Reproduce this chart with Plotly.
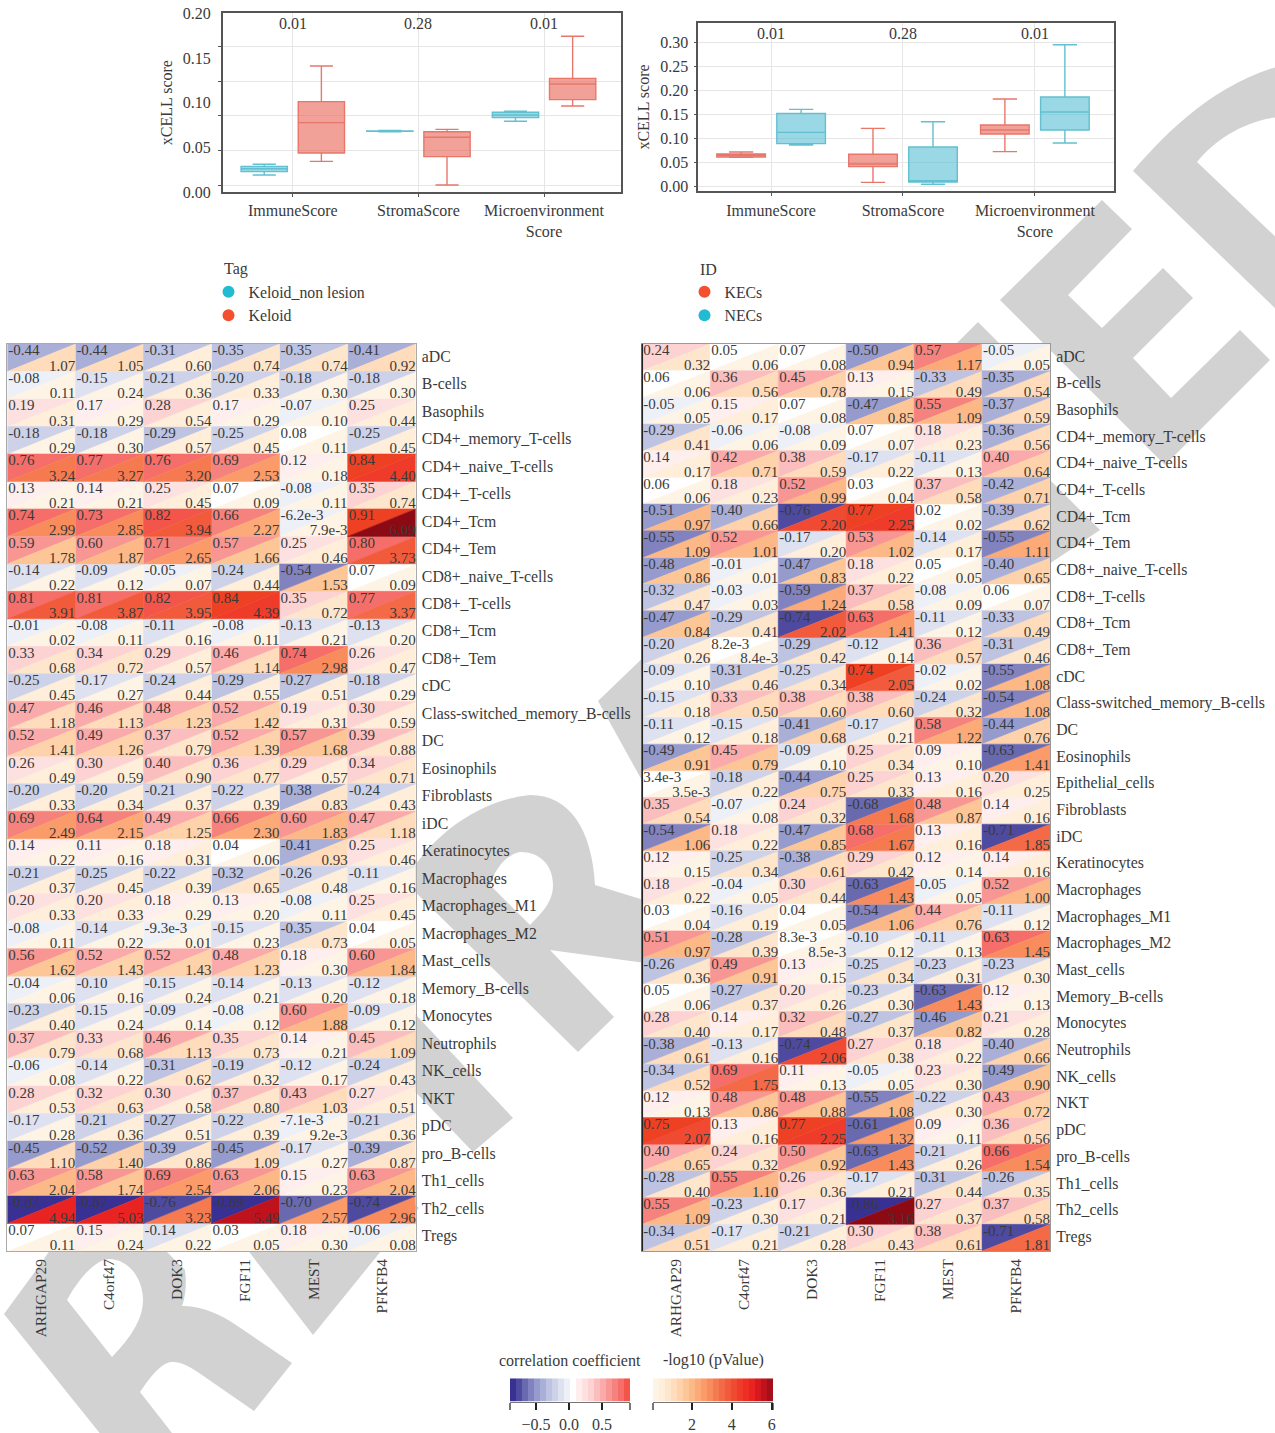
import re
import plotly.graph_objects as go

W, H = 1275, 1433
SERIF = "Liberation Serif"
INK = "#3a3a3a"

# ---------- box plots ----------
box_cats = ["ImmuneScore", "StromaScore", "Microenvironment<br>Score"]

tag_names = ["Keloid_non lesion", "Keloid"]
nonlesion_low = [0.0190, 0.0675, 0.0791]
nonlesion_q1 = [0.0228, 0.0679, 0.0832]
nonlesion_med = [0.0261, 0.0679, 0.0862]
nonlesion_q3 = [0.0287, 0.0683, 0.0892]
nonlesion_up = [0.0310, 0.0690, 0.0903]
keloid_low = [0.0343, 0.0078, 0.0963]
keloid_q1 = [0.0437, 0.0396, 0.1034]
keloid_med = [0.0776, 0.0612, 0.1209]
keloid_q3 = [0.1011, 0.0675, 0.1272]
keloid_up = [0.1410, 0.0701, 0.1743]
tag_p = ["0.01", "0.28", "0.01"]

id_names = ["KECs", "NECs"]
kec_low = [0.0604, 0.0083, 0.0722]
kec_q1 = [0.0611, 0.0410, 0.1090]
kec_med = [0.0646, 0.0465, 0.1174]
kec_q3 = [0.0674, 0.0667, 0.1278]
kec_up = [0.0715, 0.1208, 0.1819]
nec_low = [0.0861, 0.0042, 0.0903]
nec_q1 = [0.0889, 0.0090, 0.1174]
nec_med = [0.1125, 0.0118, 0.1549]
nec_q3 = [0.1521, 0.0819, 0.1861]
nec_up = [0.1604, 0.1347, 0.2951]
id_p = ["0.01", "0.28", "0.01"]

# ---------- heat tables ----------
genes = ["ARHGAP29", "C4orf47", "DOK3", "FGF11", "MEST", "PFKFB4"]

left_rows = ["aDC", "B-cells", "Basophils", "CD4+_memory_T-cells", "CD4+_naive_T-cells", "CD4+_T-cells",
             "CD4+_Tcm", "CD4+_Tem", "CD8+_naive_T-cells", "CD8+_T-cells", "CD8+_Tcm", "CD8+_Tem", "cDC",
             "Class-switched_memory_B-cells", "DC", "Eosinophils", "Fibroblasts", "iDC", "Keratinocytes",
             "Macrophages", "Macrophages_M1", "Macrophages_M2", "Mast_cells", "Memory_B-cells", "Monocytes",
             "Neutrophils", "NK_cells", "NKT", "pDC", "pro_B-cells", "Th1_cells", "Th2_cells", "Tregs"]
left_corr = [
    [-0.44, -0.44, -0.31, -0.35, -0.35, -0.41],
    [-0.08, -0.15, -0.21, -0.20, -0.18, -0.18],
    [0.19, 0.17, 0.28, 0.17, -0.07, 0.25],
    [-0.18, -0.18, -0.29, -0.25, 0.08, -0.25],
    [0.76, 0.77, 0.76, 0.69, 0.12, 0.84],
    [0.13, 0.14, 0.25, 0.07, -0.08, 0.35],
    [0.74, 0.73, 0.82, 0.66, -6.2e-3, 0.91],
    [0.59, 0.60, 0.71, 0.57, 0.25, 0.80],
    [-0.14, -0.09, -0.05, -0.24, -0.54, 0.07],
    [0.81, 0.81, 0.82, 0.84, 0.35, 0.77],
    [-0.01, -0.08, -0.11, -0.08, -0.13, -0.13],
    [0.33, 0.34, 0.29, 0.46, 0.74, 0.26],
    [-0.25, -0.17, -0.24, -0.29, -0.27, -0.18],
    [0.47, 0.46, 0.48, 0.52, 0.19, 0.30],
    [0.52, 0.49, 0.37, 0.52, 0.57, 0.39],
    [0.26, 0.30, 0.40, 0.36, 0.29, 0.34],
    [-0.20, -0.20, -0.21, -0.22, -0.38, -0.24],
    [0.69, 0.64, 0.49, 0.66, 0.60, 0.47],
    [0.14, 0.11, 0.18, 0.04, -0.41, 0.25],
    [-0.21, -0.25, -0.22, -0.32, -0.26, -0.11],
    [0.20, 0.20, 0.18, 0.13, -0.08, 0.25],
    [-0.08, -0.14, -9.3e-3, -0.15, -0.35, 0.04],
    [0.56, 0.52, 0.52, 0.48, 0.18, 0.60],
    [-0.04, -0.10, -0.15, -0.14, -0.13, -0.12],
    [-0.23, -0.15, -0.09, -0.08, 0.60, -0.09],
    [0.37, 0.33, 0.46, 0.35, 0.14, 0.45],
    [-0.06, -0.14, -0.31, -0.19, -0.12, -0.24],
    [0.28, 0.32, 0.30, 0.37, 0.43, 0.27],
    [-0.17, -0.21, -0.27, -0.22, -7.1e-3, -0.21],
    [-0.45, -0.52, -0.39, -0.45, -0.17, -0.39],
    [0.63, 0.58, 0.69, 0.63, 0.15, 0.63],
    [-0.87, -0.87, -0.76, -0.89, -0.70, -0.74],
    [0.07, 0.15, -0.14, 0.03, 0.18, -0.06],
]
left_logp = [
    [1.07, 1.05, 0.60, 0.74, 0.74, 0.92],
    [0.11, 0.24, 0.36, 0.33, 0.30, 0.30],
    [0.31, 0.29, 0.54, 0.29, 0.10, 0.44],
    [0.29, 0.30, 0.57, 0.45, 0.11, 0.45],
    [3.24, 3.27, 3.20, 2.53, 0.18, 4.40],
    [0.21, 0.21, 0.45, 0.09, 0.11, 0.74],
    [2.99, 2.85, 3.94, 2.27, 7.9e-3, 6.09],
    [1.78, 1.87, 2.65, 1.66, 0.46, 3.73],
    [0.22, 0.12, 0.07, 0.44, 1.53, 0.09],
    [3.91, 3.87, 3.95, 4.39, 0.72, 3.37],
    [0.02, 0.11, 0.16, 0.11, 0.21, 0.20],
    [0.68, 0.72, 0.57, 1.14, 2.98, 0.47],
    [0.45, 0.27, 0.44, 0.55, 0.51, 0.29],
    [1.18, 1.13, 1.23, 1.42, 0.31, 0.59],
    [1.41, 1.26, 0.79, 1.39, 1.68, 0.88],
    [0.49, 0.59, 0.90, 0.77, 0.57, 0.71],
    [0.33, 0.34, 0.37, 0.39, 0.83, 0.43],
    [2.49, 2.15, 1.25, 2.30, 1.83, 1.18],
    [0.22, 0.16, 0.31, 0.06, 0.93, 0.46],
    [0.37, 0.45, 0.39, 0.65, 0.48, 0.16],
    [0.33, 0.33, 0.29, 0.20, 0.11, 0.45],
    [0.11, 0.22, 0.01, 0.23, 0.73, 0.05],
    [1.62, 1.43, 1.43, 1.23, 0.30, 1.84],
    [0.06, 0.16, 0.24, 0.21, 0.20, 0.18],
    [0.40, 0.24, 0.14, 0.12, 1.88, 0.12],
    [0.79, 0.68, 1.13, 0.73, 0.21, 1.09],
    [0.08, 0.22, 0.62, 0.32, 0.17, 0.43],
    [0.53, 0.63, 0.58, 0.80, 1.03, 0.51],
    [0.28, 0.36, 0.51, 0.39, 9.2e-3, 0.36],
    [1.10, 1.40, 0.86, 1.09, 0.27, 0.87],
    [2.04, 1.74, 2.54, 2.06, 0.23, 2.04],
    [4.94, 5.03, 3.23, 5.49, 2.57, 2.96],
    [0.11, 0.24, 0.22, 0.05, 0.30, 0.08],
]

right_rows = ["aDC", "B-cells", "Basophils", "CD4+_memory_T-cells", "CD4+_naive_T-cells", "CD4+_T-cells",
              "CD4+_Tcm", "CD4+_Tem", "CD8+_naive_T-cells", "CD8+_T-cells", "CD8+_Tcm", "CD8+_Tem", "cDC",
              "Class-switched_memory_B-cells", "DC", "Eosinophils", "Epithelial_cells", "Fibroblasts", "iDC",
              "Keratinocytes", "Macrophages", "Macrophages_M1", "Macrophages_M2", "Mast_cells", "Memory_B-cells",
              "Monocytes", "Neutrophils", "NK_cells", "NKT", "pDC", "pro_B-cells", "Th1_cells", "Th2_cells", "Tregs"]
right_corr = [
    [0.24, 0.05, 0.07, -0.50, 0.57, -0.05],
    [0.06, 0.36, 0.45, 0.13, -0.33, -0.35],
    [-0.05, 0.15, 0.07, -0.47, 0.55, -0.37],
    [-0.29, -0.06, -0.08, 0.07, 0.18, -0.36],
    [0.14, 0.42, 0.38, -0.17, -0.11, 0.40],
    [0.06, 0.18, 0.52, 0.03, 0.37, -0.42],
    [-0.51, -0.40, -0.76, 0.77, 0.02, -0.39],
    [-0.55, 0.52, -0.17, 0.53, -0.14, -0.55],
    [-0.48, -0.01, -0.47, 0.18, 0.05, -0.40],
    [-0.32, -0.03, -0.59, 0.37, -0.08, 0.06],
    [-0.47, -0.29, -0.74, 0.63, -0.11, -0.33],
    [-0.20, 8.2e-3, -0.29, -0.12, 0.36, -0.31],
    [-0.09, -0.31, -0.25, 0.74, -0.02, -0.55],
    [-0.15, 0.33, 0.38, 0.38, -0.24, -0.54],
    [-0.11, -0.15, -0.41, -0.17, 0.58, -0.44],
    [-0.49, 0.45, -0.09, 0.25, 0.09, -0.63],
    [3.4e-3, -0.18, -0.44, 0.25, 0.13, 0.20],
    [0.35, -0.07, 0.24, -0.68, 0.48, 0.14],
    [-0.54, 0.18, -0.47, 0.68, 0.13, -0.71],
    [0.12, -0.25, -0.38, 0.29, 0.12, 0.14],
    [0.18, -0.04, 0.30, -0.63, -0.05, 0.52],
    [0.03, -0.16, 0.04, -0.54, 0.44, -0.11],
    [0.51, -0.28, 8.3e-3, -0.10, -0.11, 0.63],
    [-0.26, 0.49, 0.13, -0.25, -0.23, -0.23],
    [0.05, -0.27, 0.20, -0.23, -0.63, 0.12],
    [0.28, 0.14, 0.32, -0.27, -0.46, 0.21],
    [-0.38, -0.13, -0.74, 0.27, 0.18, -0.40],
    [-0.34, 0.69, 0.11, -0.05, 0.23, -0.49],
    [0.12, 0.48, 0.48, -0.55, -0.22, 0.43],
    [0.75, 0.13, 0.77, -0.61, 0.09, 0.36],
    [0.40, 0.24, 0.50, -0.63, -0.21, 0.66],
    [-0.28, 0.55, 0.26, -0.17, -0.31, -0.26],
    [0.55, -0.23, 0.17, -0.86, 0.27, 0.37],
    [-0.34, -0.17, -0.21, 0.30, 0.38, -0.71],
]
right_logp = [
    [0.32, 0.06, 0.08, 0.94, 1.17, 0.05],
    [0.06, 0.56, 0.78, 0.15, 0.49, 0.54],
    [0.05, 0.17, 0.08, 0.85, 1.09, 0.59],
    [0.41, 0.06, 0.09, 0.07, 0.23, 0.56],
    [0.17, 0.71, 0.59, 0.22, 0.13, 0.64],
    [0.06, 0.23, 0.99, 0.04, 0.58, 0.71],
    [0.97, 0.66, 2.20, 2.25, 0.02, 0.62],
    [1.09, 1.01, 0.20, 1.02, 0.17, 1.11],
    [0.86, 0.01, 0.83, 0.22, 0.05, 0.65],
    [0.47, 0.03, 1.24, 0.58, 0.09, 0.07],
    [0.84, 0.41, 2.02, 1.41, 0.12, 0.49],
    [0.26, 8.4e-3, 0.42, 0.14, 0.57, 0.46],
    [0.10, 0.46, 0.34, 2.05, 0.02, 1.08],
    [0.18, 0.50, 0.60, 0.60, 0.32, 1.08],
    [0.12, 0.18, 0.68, 0.21, 1.22, 0.76],
    [0.91, 0.79, 0.10, 0.34, 0.10, 1.41],
    [3.5e-3, 0.22, 0.75, 0.33, 0.16, 0.25],
    [0.54, 0.08, 0.32, 1.68, 0.87, 0.16],
    [1.06, 0.22, 0.85, 1.67, 0.16, 1.85],
    [0.15, 0.34, 0.61, 0.42, 0.14, 0.16],
    [0.22, 0.05, 0.44, 1.43, 0.05, 1.00],
    [0.04, 0.19, 0.05, 1.06, 0.76, 0.12],
    [0.97, 0.39, 8.5e-3, 0.12, 0.13, 1.45],
    [0.36, 0.91, 0.15, 0.34, 0.31, 0.30],
    [0.06, 0.37, 0.26, 0.30, 1.43, 0.13],
    [0.40, 0.17, 0.48, 0.37, 0.82, 0.28],
    [0.61, 0.16, 2.06, 0.38, 0.22, 0.66],
    [0.52, 1.75, 0.13, 0.05, 0.30, 0.90],
    [0.13, 0.86, 0.88, 1.08, 0.30, 0.72],
    [2.07, 0.16, 2.25, 1.32, 0.11, 0.56],
    [0.65, 0.32, 0.92, 1.43, 0.26, 1.54],
    [0.40, 1.10, 0.36, 0.21, 0.44, 0.35],
    [1.09, 0.30, 0.21, 3.16, 0.37, 0.58],
    [0.51, 0.21, 0.28, 0.43, 0.61, 1.81],
]

# ---------- colour steps ----------
neg_colors = ["#eef0f8", "#dee1f0", "#cdd2e8", "#bec3e1", "#aaafd7", "#969bcd", "#8282be", "#6969af", "#4e4aa0", "#383092"]
pos_colors = ["#ffffff", "#feeeee", "#fde1e1", "#fcd2d2", "#fbbebe", "#faaaaa", "#f89694", "#f6827d", "#f56e69", "#f3554b", "#ee4022"]
logp_colors = ["#fef4e6", "#feeeda", "#fee6cd", "#fedcbc", "#fed2aa", "#fdc696", "#fcb987", "#fbaa78", "#fa9b69", "#f88c5c",
               "#f67a50", "#f46946", "#f25a3c", "#f04b32", "#ef3c2a", "#ee2d23", "#e82321", "#d7191e", "#be121c", "#a50f19", "#8c0a14"]

corr_edges = [-0.894, -0.803, -0.712, -0.621, -0.530, -0.439, -0.348, -0.257, -0.166, -0.075, 0.015,
              0.106, 0.197, 0.288, 0.379, 0.470, 0.561, 0.652, 0.742, 0.833, 0.924]
logp_edges = [0.04, 0.34, 0.64, 0.94, 1.25, 1.55, 1.85, 2.15, 2.45, 2.75, 3.05,
              3.35, 3.65, 3.96, 4.26, 4.56, 4.86, 5.16, 5.46, 5.76, 6.065]
corr_ticks = [-0.5, 0.0, 0.5]
logp_ticks = [2, 4, 6]


def corr_color(v, vmin, vmax):
    if v < 0:
        return neg_colors[min(int(-v / -vmin * 10), 9)]
    t = v / vmax
    return pos_colors[10 if t >= 0.92 else int(t * 10)]


def logp_color(v, vmax):
    return logp_colors[int(v / vmax * 20)]


def fmt(v):
    if abs(v) < 0.01:
        return f"{v:.1e}".replace("e-0", "e-")
    return f"{v:.2f}"


def px_path(s):
    out, is_x = [], True
    for tok in s.split():
        if tok.isalpha():
            out.append(tok)
        else:
            out.append(f"{float(tok) / W:.5f}" if is_x else f"{1 - float(tok) / H:.5f}")
            is_x = not is_x
    return " ".join(out)


def dom_x(a, b):
    return [a / W, b / W]


def dom_y(top, bottom):
    return [1 - bottom / H, 1 - top / H]


fig = go.Figure()

# ---------- watermark (behind everything) ----------
watermark = [
    "M 4 1314 L 42 1262 L 60 1235 L 150 1235 L 185 1270 C 187 1285 185 1298 182 1306 C 200 1305 222 1315 236 1325 "
    "L 292 1363 L 254 1411 L 202 1375 C 190 1366 175 1358 165 1364 C 155 1370 147 1382 140 1392 L 204 1474 L 139 1482 Z "
    "M 67 1300 L 112 1357 C 130 1338 143 1320 143 1300 C 143 1280 130 1260 110 1259 C 95 1259 78 1280 67 1300 Z",
    "M 240 1240 L 313 1335 L 390 1240 Z",
    "M 400 998 L 513 1118 L 473 1152 L 400 1076 Z",
    "M 400 1190 L 419 1208 L 400 1226 Z",
    "M 405 882 C 430 835 480 800 530 795 C 570 795 592 830 595 885 L 660 905 L 660 965 L 550 950 L 614 1017 L 578 1052 Z "
    "M 490 885 L 530 925 C 545 910 553 900 553 885 C 553 865 540 852 520 852 C 505 855 495 870 490 885 Z",
    "M 598 701 L 650 651 L 650 795 Z",
    "M 978 322 L 950 350 L 1006 350 Z",
    "M 1100 530 L 1040 470 L 1040 570 Z",
    "M 1102 200 L 1132 229 L 1068 295 L 1102 328 L 1163 268 L 1193 298 L 1133 358 L 1171 398 L 1240 330 L 1270 360 L 1165 465 L 1000 300 Z",
    "M 1133 171 C 1160 140 1210 85 1280 66 L 1280 117 C 1245 120 1215 140 1197 162 L 1280 241 L 1280 313 Z",
]
shapes = [dict(type="path", xref="paper", yref="paper", path=px_path(p), fillcolor="#d2d2d2",
               line=dict(width=0), layer="below") for p in watermark]

# ---------- boxes ----------
RED_L, RED_F = "#e8776b", "rgba(234,110,95,0.65)"
TEAL_L, TEAL_F = "#62c0d0", "rgba(85,190,210,0.6)"


def add_box(name, low, q1, med, q3, up, line, fill, xa, ya, group):
    fig.add_trace(go.Box(x=box_cats, lowerfence=low, q1=q1, median=med, q3=q3, upperfence=up, name=name,
                         line=dict(color=line, width=1.4), fillcolor=fill, whiskerwidth=0.5, boxpoints=False,
                         showlegend=False, hoverinfo="skip", xaxis=xa, yaxis=ya,
                         alignmentgroup=xa, offsetgroup=group))


# invisible helper so that the overlay axis carrying the printed grid exists
fig.add_trace(go.Scatter(x=[None], y=[None], xaxis="x", yaxis="y2", showlegend=False, hoverinfo="skip"))
add_box(tag_names[0], nonlesion_low, nonlesion_q1, nonlesion_med, nonlesion_q3, nonlesion_up, TEAL_L, TEAL_F, "x", "y", "a")
add_box(tag_names[1], keloid_low, keloid_q1, keloid_med, keloid_q3, keloid_up, RED_L, RED_F, "x", "y", "b")
add_box(id_names[0], kec_low, kec_q1, kec_med, kec_q3, kec_up, RED_L, RED_F, "x2", "y3", "a")
add_box(id_names[1], nec_low, nec_q1, nec_med, nec_q3, nec_up, TEAL_L, TEAL_F, "x2", "y3", "b")

# legends
for nm, col, leg in [(tag_names[0], "#22bcd2", "legend"), (tag_names[1], "#f4502f", "legend"),
                     (id_names[0], "#f4502f", "legend2"), (id_names[1], "#22bcd2", "legend2")]:
    fig.add_trace(go.Scatter(x=[None], y=[None], mode="markers", name=nm, legend=leg,
                             marker=dict(color=col, size=12), xaxis="x", yaxis="y", hoverinfo="skip"))


# ---------- heat panels ----------
def add_panel(corr, logp, xa, ya):
    vmin = min(min(r) for r in corr)
    vmax = max(max(r) for r in corr)
    lmax = max(max(r) for r in logp)
    groups = {}
    for i, row in enumerate(corr):
        for j, v in enumerate(row):
            g = groups.setdefault(corr_color(v, vmin, vmax), ([], []))
            g[0].extend([j - .5, j + .5, j - .5, j - .5, None])
            g[1].extend([i - .5, i - .5, i + .5, i - .5, None])
            g = groups.setdefault(logp_color(logp[i][j], lmax), ([], []))
            g[0].extend([j + .5, j + .5, j - .5, j + .5, None])
            g[1].extend([i - .5, i + .5, i + .5, i - .5, None])
    for col, (xs, ys) in groups.items():
        fig.add_trace(go.Scatter(x=xs, y=ys, mode="lines", fill="toself", fillcolor=col,
                                 line=dict(color=col, width=0.5), hoverinfo="skip", showlegend=False,
                                 xaxis=xa, yaxis=ya))
    n = len(corr)
    xs1, ys1, tx1, xs2, ys2, tx2 = [], [], [], [], [], []
    for i in range(n):
        for j in range(6):
            xs1.append(j - .485); ys1.append(i - .22); tx1.append(fmt(corr[i][j]))
            xs2.append(j + .5); ys2.append(i + .33); tx2.append(fmt(logp[i][j]))
    fig.add_trace(go.Scatter(x=xs1, y=ys1, text=tx1, mode="text", textposition="middle right", cliponaxis=False,
                             textfont=dict(family=SERIF, size=15, color=INK), hoverinfo="skip", showlegend=False,
                             xaxis=xa, yaxis=ya))
    fig.add_trace(go.Scatter(x=xs2, y=ys2, text=tx2, mode="text", textposition="middle left", cliponaxis=False,
                             textfont=dict(family=SERIF, size=15, color=INK), hoverinfo="skip", showlegend=False,
                             xaxis=xa, yaxis=ya))


add_panel(left_corr, left_logp, "x3", "y4")
add_panel(right_corr, right_logp, "x4", "y5")


# ---------- colour bars ----------
def steps(cols):
    out = []
    for k, c in enumerate(cols):
        out += [[k / len(cols), c], [(k + 1) / len(cols), c]]
    return out


corr_bar_cols = neg_colors[::-1] + pos_colors[:10]
fig.add_trace(go.Heatmap(x=corr_edges, z=[list(range(20))], colorscale=steps(corr_bar_cols), zmin=-.5, zmax=19.5,
                         showscale=False, hoverinfo="skip", xaxis="x5", yaxis="y6"))
fig.add_trace(go.Heatmap(x=logp_edges, z=[list(range(20))], colorscale=steps(logp_colors[:20]), zmin=-.5, zmax=19.5,
                         showscale=False, hoverinfo="skip", xaxis="x6", yaxis="y7"))

font16 = dict(family=SERIF, size=16, color=INK)
font_row = dict(family=SERIF, size=15.8, color=INK)
font_gene = dict(family=SERIF, size=15.3, color=INK)
axis_line = dict(showline=True, linecolor="#555555", linewidth=1.5, mirror=True)
grid = dict(showgrid=True, gridcolor="#e6e6e6", gridwidth=1)

heat_common = dict(showgrid=False, zeroline=False, showline=True, mirror=True, linewidth=1, ticks="")

layout = dict(
    width=W, height=H, margin=dict(l=0, r=0, t=0, b=0, autoexpand=False), autosize=False,
    paper_bgcolor="white", plot_bgcolor="rgba(0,0,0,0)", font=font16,
    boxmode="group", boxgap=0.09, boxgroupgap=0.19, shapes=shapes,
    # left box
    xaxis=dict(domain=dom_x(222.7, 620.7), type="category", range=[-.558, 2.61], anchor="y", ticks="outside",
               ticklen=3, tickcolor="#555555", tickfont=font16, ticklabelstandoff=0, zeroline=False, **axis_line, **grid),
    yaxis=dict(domain=dom_y(13.3, 192), range=[0, 0.2], tickvals=[0, .05, .1, .15, .2], tickformat=".2f", anchor="x",
               showgrid=False, zeroline=False, ticks="outside", ticklen=7, tickcolor="rgba(0,0,0,0)", tickfont=font16,
               title=dict(text="xCELL score", font=font16, standoff=6), **axis_line),
    yaxis2=dict(overlaying="y", anchor="x", side="left", range=[-0.00962, 0.2481], tickvals=[0, .05, .1, .15, .2],
                showticklabels=False, ticks="outside", ticklen=4, tickcolor="#555555", zeroline=False, **grid),
    # right box
    xaxis2=dict(domain=dom_x(698.3, 1114), type="category", range=[-.552, 2.60], anchor="y3", ticks="outside",
                ticklen=3, tickcolor="#555555", tickfont=font16, ticklabelstandoff=1, zeroline=False, **axis_line, **grid),
    yaxis3=dict(domain=dom_y(22.7, 191.3), range=[-0.0104, 0.341], tickvals=[0, .05, .1, .15, .2, .25, .3],
                tickformat=".2f", anchor="x2", ticks="outside", ticklen=3, tickcolor="#555555", tickfont=font16,
                ticklabelstandoff=2, zeroline=False, title=dict(text="xCELL score", font=font16, standoff=7),
                **axis_line, **grid),
    # left heat
    xaxis3=dict(domain=dom_x(7.3, 415.7), range=[-.5, 5.5], tickvals=list(range(6)), ticktext=genes, tickangle=-90,
                anchor="y4", tickfont=font_gene, ticklabelstandoff=1, linecolor="#aaaaaa", **heat_common),
    yaxis4=dict(domain=dom_y(344, 1251), range=[len(left_rows) - .5, -.5], tickvals=[i - .06 for i in range(len(left_rows))],
                ticktext=left_rows, side="right", anchor="x3", tickfont=font_row, ticklabelstandoff=2,
                linecolor="#aaaaaa", **heat_common),
    # right heat
    xaxis4=dict(domain=dom_x(642.3, 1050), range=[-.5, 5.5], tickvals=list(range(6)), ticktext=genes, tickangle=-90,
                anchor="y5", tickfont=font_gene, ticklabelstandoff=1, linecolor="#999999", **heat_common),
    yaxis5=dict(domain=dom_y(344, 1251), range=[len(right_rows) - .5, -.5], tickvals=[i - .05 for i in range(len(right_rows))],
                ticktext=right_rows, side="right", anchor="x4", tickfont=font_row, ticklabelstandoff=2,
                linecolor="#999999", **heat_common),
    # colour bars
    xaxis5=dict(domain=dom_x(510, 630), range=[corr_edges[0], corr_edges[-1]], tickvals=corr_ticks, tickformat=".1f",
                anchor="y6", ticks="outside", ticklen=7, tickwidth=1.5, tickcolor="#222222", tickfont=font16,
                ticklabelstandoff=1, showgrid=False, zeroline=False, showline=True, linecolor="#777777",
                minor=dict(tickvals=[corr_edges[0], corr_edges[-1]], ticks="outside", ticklen=7, tickcolor="#777777", tickwidth=1.5)),
    yaxis6=dict(domain=dom_y(1378.3, 1401.7), anchor="x5", visible=False),
    xaxis6=dict(domain=dom_x(653, 773), range=[logp_edges[0], logp_edges[-1]], tickvals=logp_ticks,
                anchor="y7", ticks="outside", ticklen=7, tickwidth=1.5, tickcolor="#222222", tickfont=font16,
                ticklabelstandoff=1, showgrid=False, zeroline=False, showline=True, linecolor="#777777",
                minor=dict(tickvals=[logp_edges[0], logp_edges[-1]], ticks="outside", ticklen=7, tickcolor="#777777", tickwidth=1.5)),
    yaxis7=dict(domain=dom_y(1378.3, 1401.7), anchor="x6", visible=False),
    legend=dict(x=208.5 / W, y=1 - 275 / H, xanchor="left", yanchor="top", bgcolor="rgba(0,0,0,0)", font=font_row,
                itemclick=False, itemdoubleclick=False),
    legend2=dict(x=684.5 / W, y=1 - 275 / H, xanchor="left", yanchor="top", bgcolor="rgba(0,0,0,0)", font=font_row,
                 itemclick=False, itemdoubleclick=False),
)
fig.update_layout(**layout)

# dark left rule of the right panel
fig.add_shape(type="line", xref="x4 domain", yref="y5 domain", x0=0, x1=0, y0=0, y1=1, line=dict(color="#222222", width=1.5))

# p values, legend titles and colour-bar titles
for c, p in zip(box_cats, tag_p):
    fig.add_annotation(x=c, y=0.189, xref="x", yref="y", text=p, showarrow=False, font=font16)
for c, p in zip(box_cats, id_p):
    fig.add_annotation(x=c, y=0.319, xref="x2", yref="y3", text=p, showarrow=False, font=font16)
for txt, px, py, anchor in [("Tag", 221.5, 269, "left"), ("ID", 697.5, 269, "left"),
                            ("correlation coefficient", 570, 1360, "center"), ("-log10 (pValue)", 713, 1360, "center")]:
    fig.add_annotation(x=px / W, y=1 - py / H, xref="paper", yref="paper", text=txt, xanchor=anchor, yanchor="middle",
                       showarrow=False, font=font16)

fig.write_html("out.html", post_script="document.body.style.margin='0';", config={"displayModeBar": False})
